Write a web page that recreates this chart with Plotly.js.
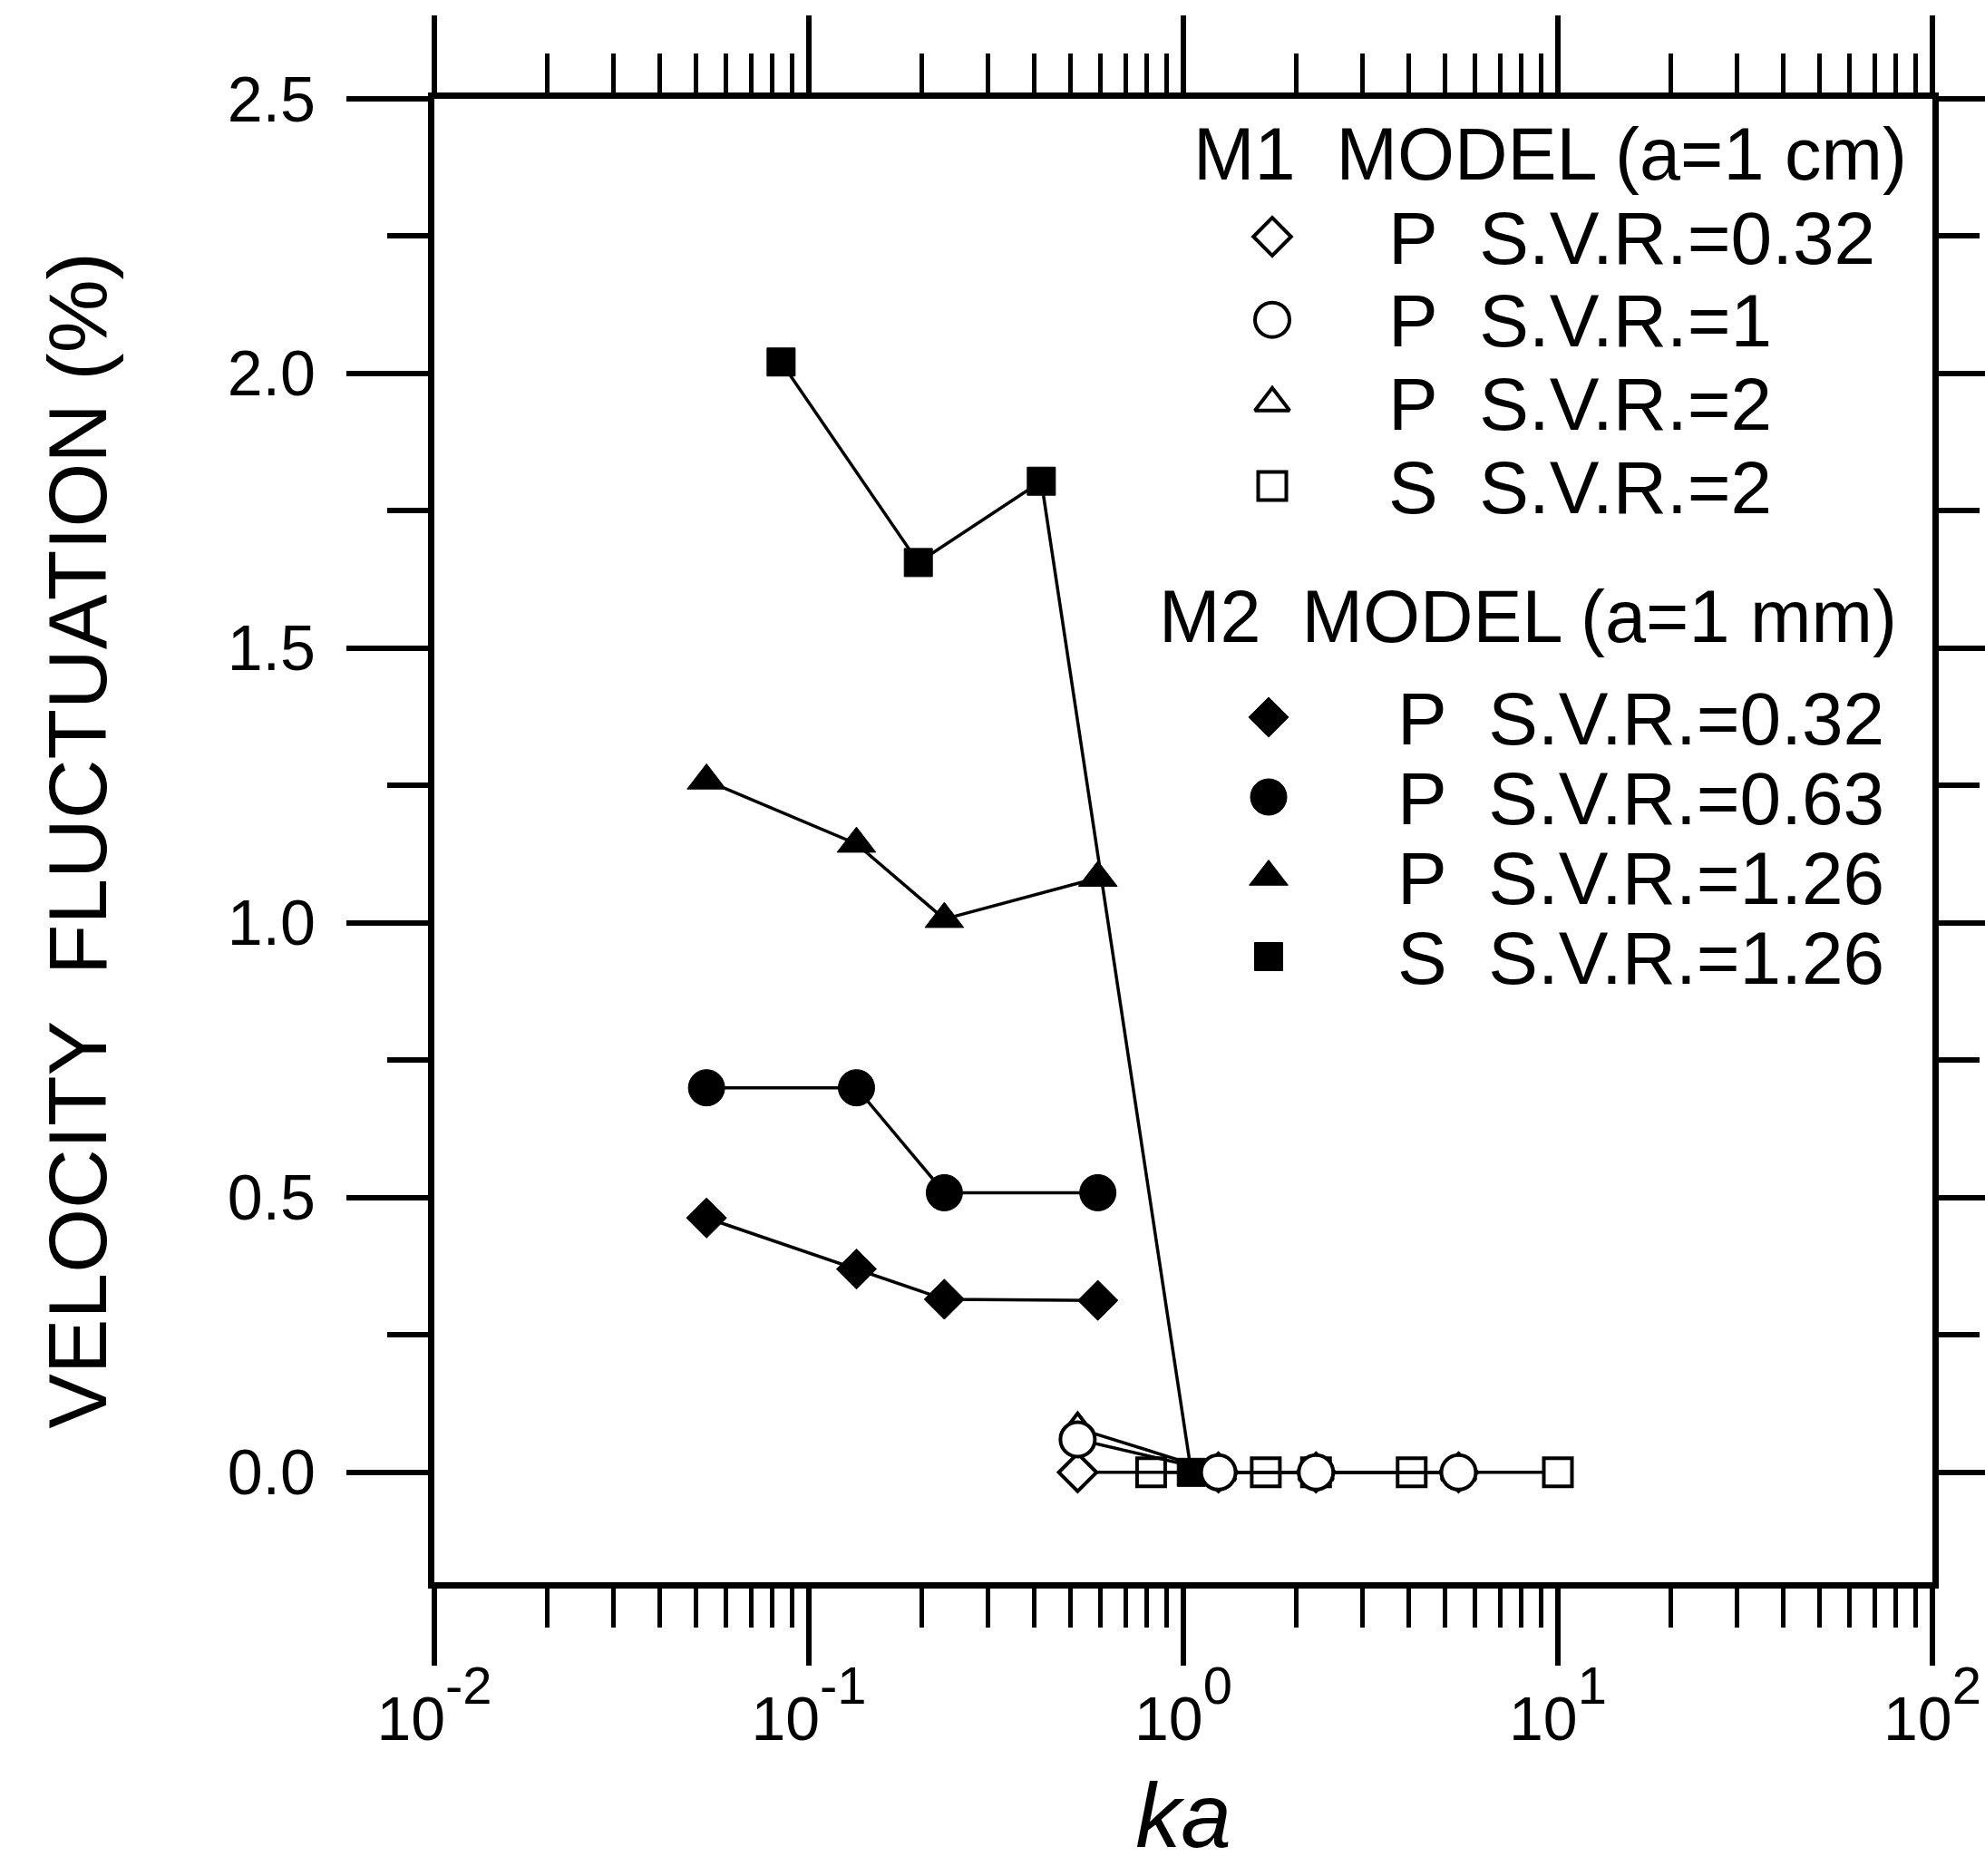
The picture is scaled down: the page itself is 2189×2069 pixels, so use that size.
<!DOCTYPE html>
<html><head><meta charset="utf-8">
<script src="https://cdn.plot.ly/plotly-3.0.1.min.js"></script>
<style>html,body{margin:0;padding:0;background:#fff}</style>
</head><body><div id="chart" style="width:2189px;height:2069px"></div>
<script>
// ---------------- DATA ----------------
// M1 MODEL (a=1 cm) : open symbols
const m1P_ka      = [0.522, 1.24, 2.26, 5.43];
const m1P_svr032  = [0.00, 0.00, 0.00, 0.00];
const m1P_svr1    = [0.06, 0.00, 0.00, 0.00];
const m1P_svr2    = [0.08, 0.00, 0.00, 0.00];
const m1S_ka      = [0.82, 1.66, 2.26, 4.07, 10.0];
const m1S_svr2    = [0.00, 0.00, 0.00, 0.00, 0.00];
// M2 MODEL (a=1 mm) : filled symbols
const m2P_ka      = [0.0533, 0.134, 0.230, 0.591];
const m2P_svr032  = [0.463, 0.370, 0.315, 0.313];
const m2P_svr063  = [0.700, 0.700, 0.509, 0.509];
const m2P_svr126  = [1.259, 1.144, 1.007, 1.082];
const m2S_ka      = [0.0843, 0.196, 0.4175, 1.05];
const m2S_svr126  = [2.021, 1.656, 1.804, 0.00];

// tick labels / texts
const xTickVals  = [0.01, 0.1, 1, 10, 100];
const xTickExp   = ['-2', '-1', '0', '1', '2'];
const yTickVals  = [0, 0.5, 1, 1.5, 2, 2.5];
const yTickText  = ['0.0', '0.5', '1.0', '1.5', '2.0', '2.5'];
const xTitle = '<i>ka</i>';
const yTitle = 'VELOCITY\u00a0\u00a0FLUCTUATION (%)\u00a0';
const m1Title = ['M1\u00a0\u00a0MODEL (a=1 cm)'];
const m2Title = ['M2\u00a0\u00a0MODEL (a=1 mm)'];
const m1Labels = ['P\u00a0\u00a0S.V.R.=0.32', 'P\u00a0\u00a0S.V.R.=1', 'P\u00a0\u00a0S.V.R.=2', 'S\u00a0\u00a0S.V.R.=2'];
const m2Labels = ['P\u00a0\u00a0S.V.R.=0.32', 'P\u00a0\u00a0S.V.R.=0.63', 'P\u00a0\u00a0S.V.R.=1.26', 'S\u00a0\u00a0S.V.R.=1.26'];

// ---------------- STYLE ----------------
const FONT = 'Liberation Sans, Arial, sans-serif';
const INK = '#000';
const LINE = {color: INK, width: 3.5};
const EXP_STYLE = 'baseline-shift:40px;font-size:58px';
const xTickText = xTickExp.map(e => '10<span style="' + EXP_STYLE + '">' + e + '</span>');
const m1Sym  = ['diamond', 'circle', 'triangle-up', 'square'];
const m1Size = [32, 38, 33, 31];
const m2Sym  = ['diamond', 'circle', 'triangle-up', 'square'];
const m2Size = [34, 40, 37, 31];
const openM  = (s, z) => ({symbol: s, size: z, color: '#fff', opacity: 1, line: {color: INK, width: 4}});
const fillM  = (s, z) => ({symbol: s, size: z, color: INK, opacity: 1, line: {color: INK, width: 1}});

// legend block layout (x2 / y2 helper axes in pixel units of the plot area, y downward)
const LEG = {
  m1: {symX: 924, textX: 1052, row0: 152, dy: 91.7, titleX: 837, titleY: 60},
  m2: {symX: 920, textX: 1062, row0: 682, dy: 88,   titleX: 799, titleY: 570}
};
const LABEL_FS = 82, TITLE_FS = 81, TEXT_DY = 9;

const mk = (x, y, marker) => ({x, y, type: 'scatter', mode: 'lines+markers', line: LINE,
  marker, showlegend: false, hoverinfo: 'skip', cliponaxis: false});

const traces = [
  mk(m2S_ka, m2S_svr126, fillM(m2Sym[3], m2Size[3])),
  mk(m2P_ka, m2P_svr126, fillM(m2Sym[2], m2Size[2])),
  mk(m2P_ka, m2P_svr063, fillM(m2Sym[1], m2Size[1])),
  mk(m2P_ka, m2P_svr032, fillM(m2Sym[0], m2Size[0])),
  mk(m1S_ka, m1S_svr2,   openM(m1Sym[3], m1Size[3])),
  mk(m1P_ka, m1P_svr032, openM(m1Sym[0], m1Size[0])),
  mk(m1P_ka, m1P_svr2,   openM(m1Sym[2], m1Size[2])),
  mk(m1P_ka, m1P_svr1,   openM(m1Sym[1], m1Size[1]))
];

// legend symbols + texts
const rowsY = (labels, g, off) => labels.map((_, i) => g.row0 + i * g.dy + (off || 0));
const aux = {xaxis: 'x2', yaxis: 'y2', type: 'scatter', showlegend: false, hoverinfo: 'skip', cliponaxis: false};
traces.push(Object.assign({}, aux, {x: m1Labels.map(() => LEG.m1.symX), y: rowsY(m1Labels, LEG.m1), mode: 'markers',
  marker: {symbol: m1Sym, size: m1Size, color: '#fff', opacity: 1, line: {color: INK, width: 4}}}));
traces.push(Object.assign({}, aux, {x: m2Labels.map(() => LEG.m2.symX), y: rowsY(m2Labels, LEG.m2), mode: 'markers',
  marker: {symbol: m2Sym, size: m2Size, color: INK, opacity: 1, line: {color: INK, width: 1}}}));
const textTrace = (labels, x, ys, size) => Object.assign({}, aux, {mode: 'text', x: labels.map(() => x), y: ys,
  text: labels, textposition: 'middle right', textfont: {family: FONT, size, color: INK}});
traces.push(textTrace(m1Title, LEG.m1.titleX, [LEG.m1.titleY + TEXT_DY], TITLE_FS));
traces.push(textTrace(m2Title, LEG.m2.titleX, [LEG.m2.titleY + TEXT_DY], TITLE_FS));
traces.push(textTrace(m1Labels, LEG.m1.textX, rowsY(m1Labels, LEG.m1, TEXT_DY), LABEL_FS));
traces.push(textTrace(m2Labels, LEG.m2.textX, rowsY(m2Labels, LEG.m2, TEXT_DY), LABEL_FS));

const W = 2189, H = 2069;
const M = {l: 479, r: 58, t: 109, b: 324};
const layout = {
  width: W, height: H,
  margin: {l: M.l, r: M.r, t: M.t, b: M.b, pad: 0},
  paper_bgcolor: '#fff', plot_bgcolor: '#fff',
  font: {family: FONT, color: INK},
  showlegend: false,
  xaxis: {
    type: 'log', range: [-2, 2], showgrid: false, zeroline: false,
    showline: true, linewidth: 7, linecolor: INK, mirror: 'allticks',
    ticks: 'outside', ticklen: 85, tickwidth: 6, tickcolor: INK,
    tickvals: xTickVals, ticktext: xTickText,
    tickfont: {family: FONT, size: 68, color: INK},
    minor: {ticks: 'outside', ticklen: 43, tickwidth: 5, tickcolor: INK, dtick: 'D1', showgrid: false},
    title: {text: xTitle, font: {family: FONT, size: 100, color: INK}, standoff: 38},
    automargin: false
  },
  yaxis: {
    range: [-0.2, 2.5], showgrid: false, zeroline: false,
    showline: true, linewidth: 7, linecolor: INK, mirror: 'allticks',
    ticks: 'outside', ticklen: 90, tickwidth: 6, tickcolor: INK,
    tickvals: yTickVals, ticktext: yTickText, ticklabelstandoff: 20,
    tickfont: {family: FONT, size: 70, color: INK},
    minor: {ticks: 'outside', ticklen: 45, tickwidth: 6, tickcolor: INK, tick0: 0, dtick: 0.25, showgrid: false},
    title: {text: yTitle, font: {family: FONT, size: 91, color: INK}, standoff: 105},
    automargin: false
  },
  xaxis2: {overlaying: 'x', anchor: 'y2', range: [0, 1652], visible: false, fixedrange: true},
  yaxis2: {overlaying: 'y', anchor: 'x2', range: [1636, 0], visible: false, fixedrange: true}
};

Plotly.newPlot('chart', traces, layout, {staticPlot: true, displayModeBar: false});
</script></body></html>
